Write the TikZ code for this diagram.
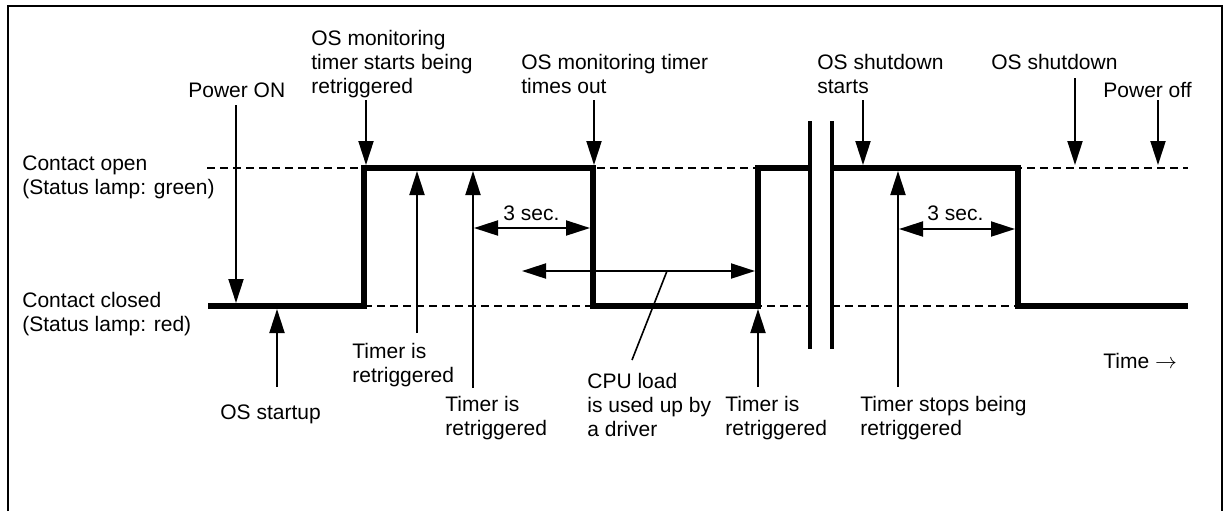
\documentclass[tikz,border=0pt]{standalone}
\usepackage{fontspec}
\setmainfont{Liberation Sans}
\usetikzlibrary{arrows.meta}
\begin{document}
\begin{tikzpicture}[x=0.5pt,y=-0.5pt,
  lbl/.style={anchor=base west, align=left, inner sep=0pt, font=\fontsize{10.5}{12}\selectfont},
  arr/.style={line width=1pt, -{Triangle[length=12pt,width=7.5pt]}},
  darr/.style={line width=1pt, {Triangle[length=12pt,width=7.5pt]}-{Triangle[length=12pt,width=7.5pt]}},
  lead/.style={line width=0.8pt},
  sig/.style={line width=3pt, line join=miter},
  lvl/.style={line width=0.7pt, dash pattern=on 4pt off 2.5pt},
  brk/.style={line width=2pt},
  frm/.style={line width=0.9pt}]
\useasboundingbox (0,0) rectangle (1226,511);
% frame
\draw[frm] (8,511) -- (8,6) -- (1222,6) -- (1222,511);
% level lines
\draw[lvl] (207,168) -- (810,168);
\draw[lvl] (832,168) -- (1188,168);
\draw[lvl] (208,306) -- (810,306);
\draw[lvl] (832,306) -- (1188,306);
% signal
\draw[sig] (208,306) -- (364,306) -- (364,168) -- (593,168) -- (593,306) -- (758,306) -- (758,168) -- (810,168);
\draw[sig] (832,168) -- (1018,168) -- (1018,306) -- (1188,306);
% break marks
\draw[brk] (810,121) -- (810,349);
\draw[brk] (832,121) -- (832,349);
% labels (anchor = baseline of the last line)
\node[lbl] (open) at (22,194) {Contact open\\(Status lamp: green)};
\node[lbl] (closed) at (22,331) {Contact closed\\(Status lamp: red)};
\node[lbl] (pon) at (188,97) {Power ON};
\node[lbl] (osm) at (311,93) {OS monitoring\\timer starts being\\retriggered};
\node[lbl] (oto) at (521,93) {OS monitoring timer\\times out};
\node[lbl] (sds) at (817,93) {OS shutdown\\starts};
\node[lbl] (sd) at (991,69) {OS shutdown};
\node[lbl] (poff) at (1103,97) {Power off};
\node[lbl] (t1) at (352,382) {Timer is\\retriggered};
\node[lbl] (t2) at (445,435) {Timer is\\retriggered};
\node[lbl] (ost) at (220,419) {OS startup};
\node[lbl] (cpu) at (587,436) {CPU load\\is used up by\\a driver};
\node[lbl] (t3) at (725,435) {Timer is\\retriggered};
\node[lbl] (tstop) at (860,435) {Timer stops being\\retriggered};
\node[lbl] (time) at (1103,368) {Time $\rightarrow$};
\node[lbl] (s1) at (503,220) {3 sec.};
\node[lbl] (s2) at (927,220) {3 sec.};
% arrow end points
\coordinate (ponA) at (236,105);  \coordinate (ponB) at (236,303);
\coordinate (osmA) at (366,100);  \coordinate (osmB) at (366,165);
\coordinate (otoA) at (594,100);  \coordinate (otoB) at (594,165);
\coordinate (sdsA) at (863,100);  \coordinate (sdsB) at (863,165);
\coordinate (sdA) at (1075,78);   \coordinate (sdB) at (1075,165);
\coordinate (poffA) at (1158,100); \coordinate (poffB) at (1158,165);
\coordinate (t1A) at (417,333);   \coordinate (t1B) at (417,171);
\coordinate (t2A) at (473,388);   \coordinate (t2B) at (473,171);
\coordinate (ostA) at (277,387);  \coordinate (ostB) at (277,309);
\coordinate (t3A) at (758,387);   \coordinate (t3B) at (758,309);
\coordinate (tsA) at (898,387);   \coordinate (tsB) at (898,171);
\coordinate (s1A) at (474,228);   \coordinate (s1B) at (590,228);
\coordinate (s2A) at (899,229);   \coordinate (s2B) at (1015,229);
\coordinate (cpuA) at (522,271);  \coordinate (cpuB) at (755,271);
\coordinate (cpuL) at (667,271);  \coordinate (cpuT) at (632,360);
% arrows
\draw[arr] (ponA) -- (ponB);
\draw[arr] (osmA) -- (osmB);
\draw[arr] (otoA) -- (otoB);
\draw[arr] (sdsA) -- (sdsB);
\draw[arr] (sdA) -- (sdB);
\draw[arr] (poffA) -- (poffB);
\draw[arr] (t1A) -- (t1B);
\draw[arr] (t2A) -- (t2B);
\draw[arr] (ostA) -- (ostB);
\draw[arr] (t3A) -- (t3B);
\draw[arr] (tsA) -- (tsB);
\draw[darr] (s1A) -- (s1B);
\draw[darr] (s2A) -- (s2B);
\draw[darr] (cpuA) -- (cpuB);
\draw[lead] (cpuL) -- (cpuT);
\end{tikzpicture}
\end{document}
